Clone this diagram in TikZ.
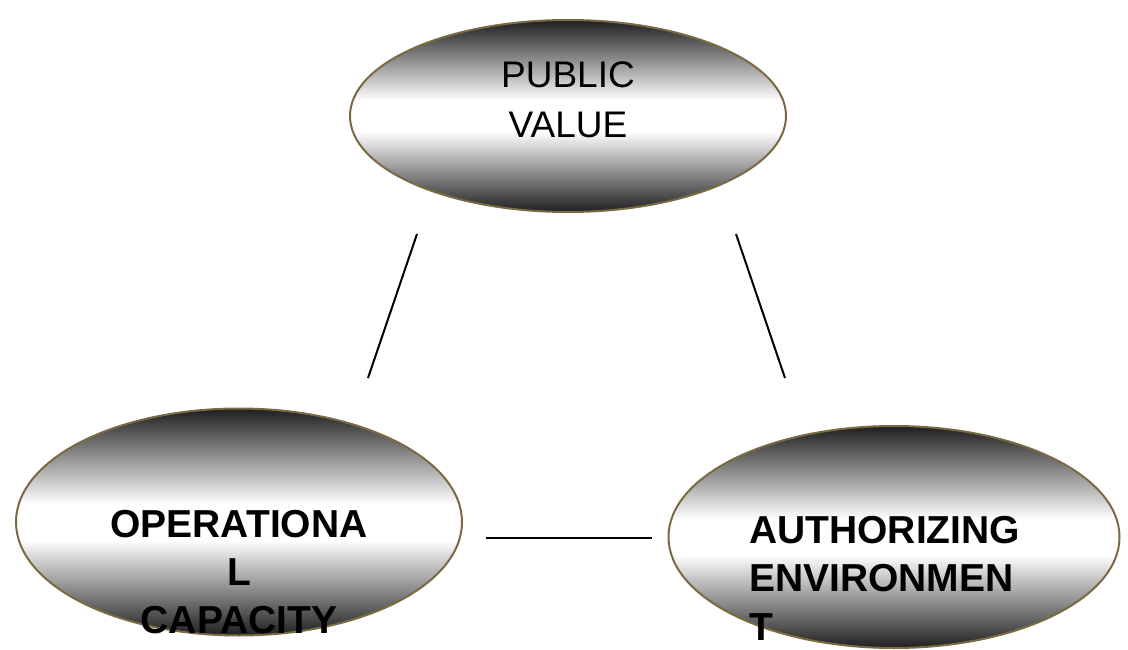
\documentclass[tikz,border=0pt]{standalone}
\usepackage{fontspec}
\setmainfont{Liberation Sans}
\usetikzlibrary{shapes.geometric}

% vertical black-white-black fill for the ovals
\pgfdeclareverticalshading{ovalshade}{100bp}{%
  color(0bp)=(black); color(25bp)=(black!88); color(46bp)=(white);
  color(54bp)=(white); color(75bp)=(black!88); color(100bp)=(black)}
\definecolor{rimcolor}{RGB}{122,106,66}

\tikzset{
  oval/.style={ellipse, draw=rimcolor, line width=2pt, shading=ovalshade,
    inner sep=0pt},
  caption/.style={anchor=base, inner sep=0pt, text=black},
  link/.style={black, line width=2pt}
}

\begin{document}
\begin{tikzpicture}[x=1pt, y=-1pt]
  \useasboundingbox (0,0) rectangle (1128,650);

  % the three ovals
  \node[oval, minimum width=436pt, minimum height=192pt] (pv) at (568,116) {};
  \node[oval, minimum width=446pt, minimum height=227pt] (oc) at (239,522) {};
  \node[oval, minimum width=451pt, minimum height=222pt] (ae) at (894,537) {};

  % captions
  \node[caption] (pvtext) at (568,88)
    {\fontsize{37}{50}\selectfont\begin{tabular}[t]{@{}c@{}}PUBLIC\\VALUE\end{tabular}};
  \node[caption] (octext) at (239,537)
    {\fontsize{39}{48}\selectfont\bfseries\begin{tabular}[t]{@{}c@{}}OPERATIONA\\L\\CAPACITY\end{tabular}};
  \node[caption, anchor=base west] (aetext) at (749,543)
    {\fontsize{39}{48.5}\selectfont\bfseries\begin{tabular}[t]{@{}l@{}}AUTHORIZING\\ENVIRONMEN\\T\end{tabular}};

  % free ends of the connecting strokes
  \coordinate (pvL) at (417,234);
  \coordinate (ocT) at (368,378);
  \coordinate (pvR) at (736,234);
  \coordinate (aeT) at (785,378);
  \coordinate (ocR) at (486,538);
  \coordinate (aeL) at (652,538);

  \draw[link] (pvL) -- (ocT);
  \draw[link] (pvR) -- (aeT);
  \draw[link] (ocR) -- (aeL);
\end{tikzpicture}
\end{document}
